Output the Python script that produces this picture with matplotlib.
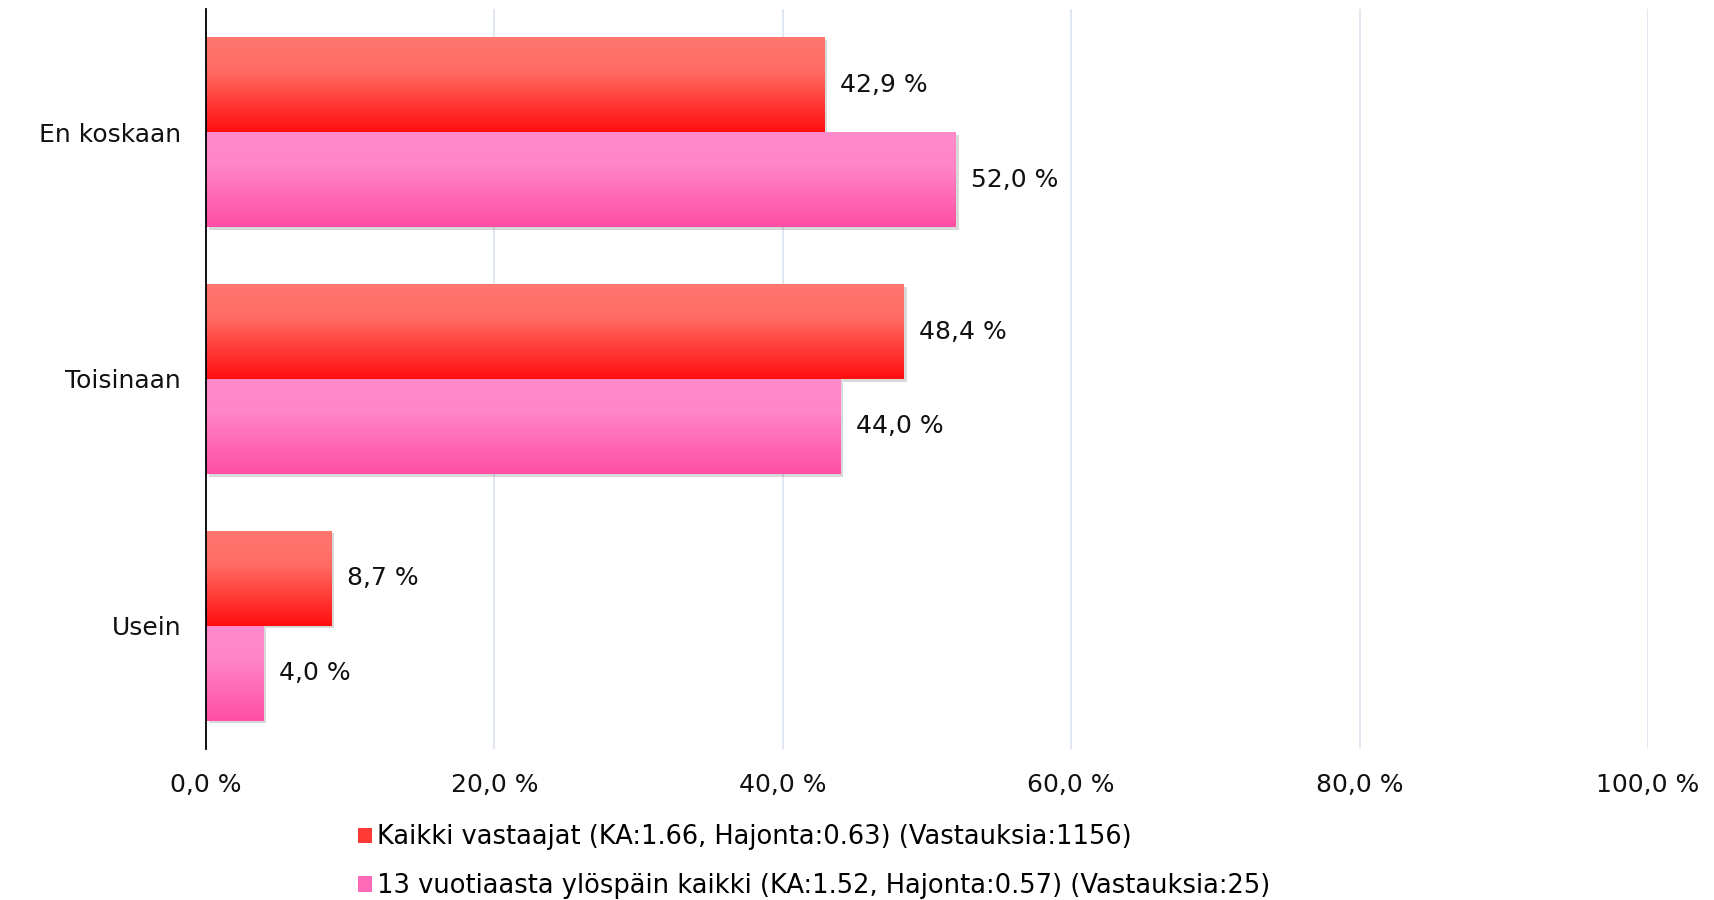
import numpy as np
import matplotlib
matplotlib.use("Agg")
import matplotlib.pyplot as plt
from matplotlib.colors import LinearSegmentedColormap
import matplotlib.patheffects as pe

plt.rcParams["font.family"] = ["DejaVu Sans"]

categories = ["En koskaan", "Toisinaan", "Usein"]
kaikki = [42.9, 48.4, 8.7]
yli13 = [52.0, 44.0, 4.0]
series_labels = [
    "Kaikki vastaajat (KA:1.66, Hajonta:0.63) (Vastauksia:1156)",
    "13 vuotiaasta ylöspäin kaikki (KA:1.52, Hajonta:0.57) (Vastauksia:25)",
]
xticks = [0, 20, 40, 60, 80, 100]

red_cmap = LinearSegmentedColormap.from_list(
    "red", [(0, "#ff7770"), (0.35, "#ff6c64"), (1, "#ff0e0e")])
pink_cmap = LinearSegmentedColormap.from_list(
    "pink", [(0, "#ff8acb"), (0.35, "#ff84c8"), (1, "#ff4ea4")])

fig = plt.figure(figsize=(17.14, 9.0), dpi=100)
ax = fig.add_axes([0.1202, 0.1678, 0.8413, 0.8222])

y = np.arange(len(categories))
h = 0.385

shadow = [pe.SimplePatchShadow(offset=(2, -2), shadow_rgbFace="#000000", alpha=0.15), pe.Normal()]
b1 = ax.barh(y - h / 2, kaikki, height=h, color="#ff3a36", zorder=2, path_effects=shadow)
b2 = ax.barh(y + h / 2, yli13, height=h, color="#ff6ab8", zorder=2, path_effects=shadow)

grad = np.linspace(0, 1, 256).reshape(-1, 1)
for bars, cmap in ((b1, red_cmap), (b2, pink_cmap)):
    for p in bars:
        x0, y0 = p.get_x(), p.get_y()
        w, hh = p.get_width(), p.get_height()
        ax.imshow(grad, cmap=cmap, aspect="auto", extent=(x0, x0 + w, y0 + hh, y0),
                  origin="upper", zorder=3, interpolation="bilinear")

for bars, vals in ((b1, kaikki), (b2, yli13)):
    for p, v in zip(bars, vals):
        ax.annotate(f"{v:.1f} %".replace(".", ","),
                    (p.get_width(), p.get_y() + p.get_height() / 2),
                    xytext=(11, 0), textcoords="offset points",
                    va="center", ha="left", fontsize=18, color="#111111")

ax.set_xlim(0, 100)
ax.set_ylim(len(categories) - 0.5, -0.5)
ax.set_yticks(y)
ax.set_yticklabels(categories, fontsize=18)
ax.set_xticks(xticks)
ax.set_xticklabels([f"{t:.1f} %".replace(".", ",") for t in xticks], fontsize=18)
ax.tick_params(length=0, colors="#111111")
ax.tick_params(axis="x", pad=17)
ax.tick_params(axis="y", pad=18)
ax.xaxis.grid(True, color="#dbe3ee", linewidth=1.2, zorder=0)
ax.set_axisbelow(True)
for s in ("top", "right", "bottom"):
    ax.spines[s].set_visible(False)
ax.spines["left"].set_color("#000000")
ax.spines["left"].set_linewidth(1.3)
ax.spines["left"].set_zorder(5)

leg = fig.legend([b1, b2], series_labels, loc="center left",
                 bbox_to_anchor=(0.2013, 0.0426), frameon=False, borderpad=0,
                 fontsize=18.5, handlelength=0.55, handleheight=0.55,
                 handletextpad=0.2, labelspacing=0.88)
for h_ in leg.legend_handles:
    h_.set_path_effects([])

fig.savefig("out.png", dpi=100)
